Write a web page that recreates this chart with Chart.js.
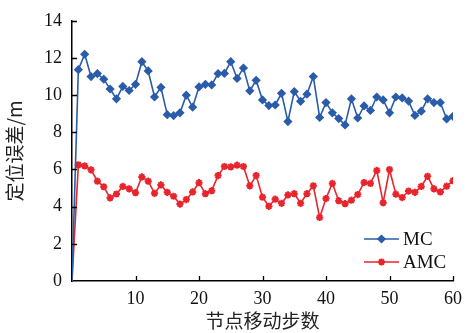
<!DOCTYPE html>
<html>
<head>
<meta charset="utf-8">
<script src="https://cdn.jsdelivr.net/npm/chart.js@4"></script>
<style>
html, body { margin: 0; padding: 0; background: #fff; }
</style>
</head>
<body>
<canvas id="graphique" width="469" height="333"></canvas>
<script>
// pas de déplacement du nœud (0..60)
const etapes = Array.from({ length: 61 }, (_, i) => i);

const erreurMC = [0, 11.37, 12.2, 11.0, 11.16, 10.86, 10.33, 9.8, 10.47, 10.25,
    10.58, 11.8, 11.3, 9.9, 10.42, 8.95, 8.9, 9.05, 10.0, 9.35,
    10.44, 10.58, 10.55, 11.16, 11.17, 11.8, 10.9, 11.46, 10.23, 10.8,
    9.74, 9.44, 9.47, 10.1, 8.58, 10.19, 9.67, 10.05, 11.0, 8.8,
    9.6, 9.05, 8.74, 8.4, 9.8, 8.77, 9.42, 9.18, 9.9, 9.74,
    9.05, 9.9, 9.85, 9.68, 8.91, 9.14, 9.8, 9.6, 9.6, 8.72, 8.86];

const erreurAMC = [0, 6.25, 6.19, 5.98, 5.37, 5.07, 4.47, 4.68, 5.09, 4.96,
    4.75, 5.6, 5.37, 4.72, 5.17, 4.77, 4.56, 4.14, 4.38, 4.79,
    5.29, 4.7, 4.86, 5.67, 6.16, 6.14, 6.23, 6.16, 5.12, 5.67,
    4.51, 4.02, 4.4, 4.18, 4.63, 4.7, 4.18, 4.7, 5.12, 3.42,
    4.44, 5.25, 4.32, 4.16, 4.35, 4.65, 5.3, 5.25, 5.95, 4.21,
    6.0, 4.67, 4.49, 4.84, 4.77, 5.09, 5.63, 4.96, 4.79, 5.1, 5.4];

const ticksX = [0, 10, 20, 30, 40, 50, 60];
const ticksY = [0, 2, 4, 6, 8, 10, 12, 14];

const bleu = "#2b5ca9";
const rouge = "#e8252d";
const policeChiffres = "'Liberation Serif', 'DejaVu Serif', serif";
const policeCJK = "'Noto Sans CJK SC', sans-serif";

// rayon 0 pour le premier point (origine)
const rayons = etapes.map(i => (i === 0 ? 0 : 3.2));

// petits traits de graduation tournés vers l'intérieur
const graduationsInterieures = {
    id: "graduationsInterieures",
    afterDraw(chart) {
        const ctx = chart.ctx;
        const x = chart.scales.x;
        const y = chart.scales.y;
        ctx.save();
        ctx.strokeStyle = "#000";
        ctx.lineWidth = 1.3;
        ctx.beginPath();
        for (const v of ticksX) {
            if (v === 0) continue;
            const px = Math.round(x.getPixelForValue(v)) + 0.5;
            ctx.moveTo(px, y.bottom);
            ctx.lineTo(px, y.bottom - 5);
        }
        for (const v of ticksY) {
            if (v === 0) continue;
            const py = Math.round(y.getPixelForValue(v)) + 0.5;
            ctx.moveTo(x.left, py);
            ctx.lineTo(x.left + 5, py);
        }
        ctx.stroke();
        ctx.restore();
    }
};

// légende dessinée dans la zone du graphique (en bas à droite)
const legendeInterne = {
    id: "legendeInterne",
    afterDraw(chart) {
        const ctx = chart.ctx;
        const entrees = [
            { texte: "MC", couleur: bleu, style: "rectRot", rayon: 3.2, y: 239 },
            { texte: "AMC", couleur: rouge, style: "star", rayon: 3.6, y: 262 }
        ];
        ctx.save();
        for (const e of entrees) {
            ctx.strokeStyle = e.couleur;
            ctx.fillStyle = e.couleur;
            ctx.lineWidth = 1.5;
            ctx.beginPath();
            ctx.moveTo(364, e.y);
            ctx.lineTo(399, e.y);
            ctx.stroke();
            if (Chart.helpers && Chart.helpers.drawPoint) {
                ctx.lineWidth = 2;
                Chart.helpers.drawPoint(ctx, { pointStyle: e.style, radius: e.rayon, rotation: 0, borderWidth: 2 }, 381.5, e.y);
            }
            ctx.fillStyle = "#111";
            ctx.font = "19px " + policeChiffres;
            ctx.textAlign = "left";
            ctx.textBaseline = "middle";
            ctx.fillText(e.texte, 403, e.y + 1);
        }
        ctx.restore();
    }
};

new Chart(document.querySelector("#graphique"), {
    type: "line",
    data: {
        labels: etapes,
        datasets: [
            {
                label: "MC",
                data: erreurMC,
                borderColor: bleu,
                backgroundColor: bleu,
                borderWidth: 1.6,
                pointStyle: "rectRot",
                pointRadius: rayons,
                pointBorderWidth: 2,
                tension: 0
            },
            {
                label: "AMC",
                data: erreurAMC,
                borderColor: rouge,
                backgroundColor: rouge,
                borderWidth: 1.6,
                pointStyle: "star",
                pointRadius: rayons.map(r => (r ? 3.6 : 0)),
                pointBorderWidth: 2,
                tension: 0
            }
        ]
    },
    options: {
        responsive: false,
        animation: false,
        devicePixelRatio: 1,
        layout: { padding: { top: 15, right: 14, left: 0, bottom: 0 } },
        plugins: {
            legend: { display: false },
            tooltip: { enabled: false }
        },
        scales: {
            x: {
                type: "linear",
                min: 0,
                max: 60,
                afterBuildTicks: s => { s.ticks = ticksX.map(v => ({ value: v })); },
                afterFit: s => { s.height = 52; },
                border: { display: true, color: "#000", width: 1.5 },
                grid: { drawOnChartArea: false, drawTicks: false },
                ticks: {
                    color: "#111",
                    padding: 7,
                    maxRotation: 0,
                    font: { family: policeChiffres, size: 18 },
                    callback: v => (v === 0 ? "" : v)
                },
                title: {
                    display: true,
                    text: "节点移动步数",
                    color: "#222",
                    font: { family: policeCJK, size: 19 },
                    padding: { top: 0, bottom: 1 }
                }
            },
            y: {
                min: 0,
                max: 14,
                afterBuildTicks: s => { s.ticks = ticksY.map(v => ({ value: v })); },
                afterFit: s => { s.width = 72; },
                border: { display: true, color: "#000", width: 1.5 },
                grid: { drawOnChartArea: false, drawTicks: false },
                ticks: {
                    color: "#111",
                    padding: 10,
                    font: { family: policeChiffres, size: 18 }
                },
                title: {
                    display: true,
                    text: "定位误差/m",
                    color: "#222",
                    font: { family: policeCJK, size: 19 },
                    padding: { top: 3, bottom: 0 }
                }
            }
        }
    },
    plugins: [graduationsInterieures, legendeInterne]
});
</script>
</body>
</html>
